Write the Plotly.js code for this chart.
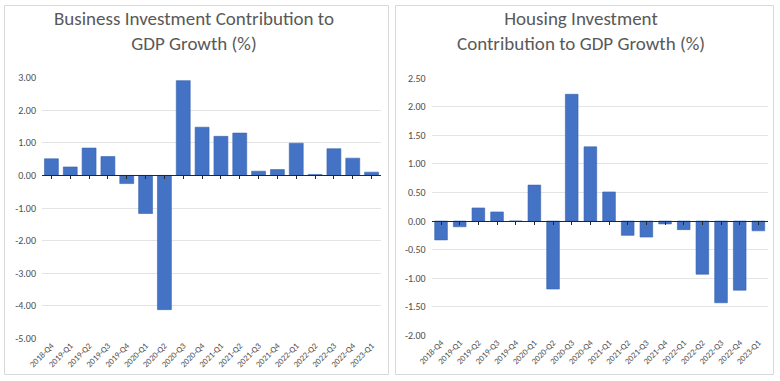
<!DOCTYPE html>
<html>
<head>
<meta charset="utf-8">
<script src="https://cdn.plot.ly/plotly-3.0.1.min.js"></script>
<style>
html,body{margin:0;padding:0;background:#fff;}
#chart{width:780px;height:381px;}
</style>
</head>
<body>
<div id="chart"></div>
<script>
const quarters = ["2018-Q4","2019-Q1","2019-Q2","2019-Q3","2019-Q4","2020-Q1","2020-Q2","2020-Q3","2020-Q4","2021-Q1","2021-Q2","2021-Q3","2021-Q4","2022-Q1","2022-Q2","2022-Q3","2022-Q4","2023-Q1"];
const businessInvestment = [0.51,0.26,0.84,0.58,-0.25,-1.17,-4.12,2.91,1.48,1.20,1.30,0.13,0.18,0.99,0.03,0.82,0.53,0.10];
const housingInvestment = [-0.33,-0.10,0.23,0.16,0.00,0.63,-1.19,2.22,1.30,0.51,-0.25,-0.28,-0.05,-0.15,-0.93,-1.43,-1.21,-0.17];
const businessTickVals = [3,2,1,0,-1,-2,-3,-4,-5];
const businessTickText = ["3.00","2.00","1.00","0.00","-1.00","-2.00","-3.00","-4.00","-5.00"];
const housingTickVals = [2.5,2,1.5,1,0.5,0,-0.5,-1,-1.5,-2];
const housingTickText = ["2.50","2.00","1.50","1.00","0.50","0.00","-0.50","-1.00","-1.50","-2.00"];
const leftTitle = "Business Investment Contribution to<br>GDP Growth (%)";
const rightTitle = "Housing Investment<br>Contribution to GDP Growth (%)";

const W = 780, H = 381;
const px = x => x / W;
const py = y => 1 - y / H;

const leftX = [px(42), px(381)];
const leftY = [py(338.3), py(77.7)];
const leftRange = [-5, 3];
const rightX = [px(431.7), px(767.7)];
const rightY = [py(335.3), py(78.3)];
const rightRange = [-2, 2.5];

function zeroPos(dom, rng){ return dom[0] + (dom[1]-dom[0]) * (0 - rng[0]) / (rng[1]-rng[0]); }

const barColor = '#4472c4';
const textColor = '#595959';
const tickColor = '#4d4d4d';
const font = "Calibri, 'Liberation Sans', 'Noto Sans', sans-serif";
const zeros = quarters.map(() => 0);

const traces = [
  {type:'bar', x:quarters, y:businessInvestment, xaxis:'x', yaxis:'y', width:0.74,
   marker:{color:barColor, line:{color:'#3b64b0', width:0.6}}, hoverinfo:'x+y'},
  {type:'bar', x:quarters, y:housingInvestment, xaxis:'x2', yaxis:'y2', width:0.68,
   marker:{color:barColor, line:{color:'#3b64b0', width:0.6}}, hoverinfo:'x+y'},
  {type:'scatter', mode:'none', x:quarters, y:zeros, xaxis:'x3', yaxis:'y', hoverinfo:'skip', showlegend:false},
  {type:'scatter', mode:'none', x:quarters, y:zeros, xaxis:'x4', yaxis:'y2', hoverinfo:'skip', showlegend:false}
];

const xBase = {
  type:'category', range:[-0.5, 17.5], showgrid:false, zeroline:false, showline:false,
  ticks:'', tickangle:-45, tickfont:{family:font, size:8.5, color:tickColor}, fixedrange:true
};
const zeroAxis = {
  type:'category', range:[-0.5, 17.5], showgrid:false, zeroline:false, showline:true,
  linecolor:'#262626', linewidth:1, ticks:'outside', ticklen:3, tickcolor:'#262626',
  showticklabels:false, side:'bottom', anchor:'free', fixedrange:true
};
const yBase = {
  showgrid:true, gridcolor:'#e4e4e4', gridwidth:1, zeroline:false, showline:false, ticks:'',
  tickfont:{family:font, size:10, color:tickColor}, tickmode:'array', ticklabelstandoff:5, fixedrange:true
};

const layout = {
  width:W, height:H, margin:{l:0,r:0,t:0,b:0},
  paper_bgcolor:'#fff', plot_bgcolor:'rgba(0,0,0,0)', showlegend:false,
  font:{family:font, color:textColor},
  xaxis: Object.assign({}, xBase, {domain:leftX, anchor:'y'}),
  yaxis: Object.assign({}, yBase, {domain:leftY, anchor:'x', range:leftRange, tickvals:businessTickVals, ticktext:businessTickText}),
  xaxis2: Object.assign({}, xBase, {domain:rightX, anchor:'y2'}),
  yaxis2: Object.assign({}, yBase, {domain:rightY, anchor:'x2', range:rightRange, tickvals:housingTickVals, ticktext:housingTickText}),
  xaxis3: Object.assign({}, zeroAxis, {domain:leftX, overlaying:'x', position:zeroPos(leftY, leftRange)}),
  xaxis4: Object.assign({}, zeroAxis, {domain:rightX, overlaying:'x2', position:zeroPos(rightY, rightRange)}),
  shapes:[
    {type:'rect', xref:'paper', yref:'paper', x0:px(4.5), x1:px(388.5), y0:py(374.5), y1:py(5.5), line:{color:'#d9d9d9', width:1}},
    {type:'rect', xref:'paper', yref:'paper', x0:px(395.5), x1:px(773.5), y0:py(374.5), y1:py(5.5), line:{color:'#d9d9d9', width:1}}
  ],
  annotations:[
    {xref:'paper', yref:'paper', x:px(194), y:py(31), xanchor:'center', yanchor:'middle', showarrow:false,
     text:leftTitle, font:{family:font, size:19, color:textColor}},
    {xref:'paper', yref:'paper', x:px(581), y:py(31), xanchor:'center', yanchor:'middle', showarrow:false,
     text:rightTitle, font:{family:font, size:19, color:textColor}}
  ]
};

Plotly.newPlot('chart', traces, layout, {displayModeBar:false, staticPlot:true});
</script>
</body>
</html>
